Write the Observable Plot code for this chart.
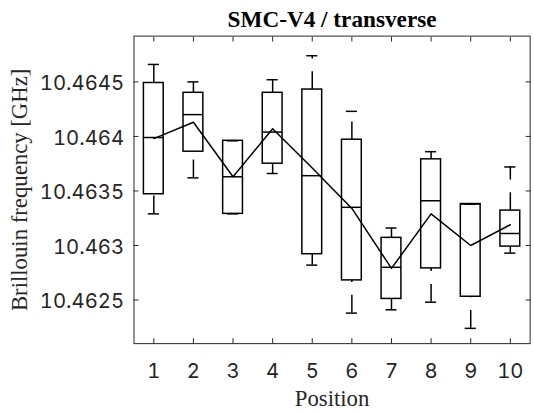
<!DOCTYPE html>
<html>
<head>
<meta charset="utf-8">
<script src="https://cdn.jsdelivr.net/npm/d3@7"></script>
<script src="https://cdn.jsdelivr.net/npm/@observablehq/plot@0.6"></script>
<style>
  html, body { margin: 0; padding: 0; background: #fff; overflow: hidden; }
</style>
</head>
<body>
<div id="chart"></div>
<script>
// Brillouin frequency distribution per measurement position (GHz)
const positions    = [1, 2, 3, 4, 5, 6, 7, 8, 9, 10];
const upperWhisker = [10.46466, 10.46450, 10.46396, 10.46452, 10.46474, 10.46423, 10.46316, 10.46386, 10.46338, 10.46372];
const q3           = [10.46449, 10.46440, 10.46396, 10.46440, 10.46443, 10.46397, 10.46307, 10.46379, 10.46338, 10.46332];
const median       = [10.46399, 10.46420, 10.46363, 10.46404, 10.46364, 10.46335, 10.46280, 10.46341, 10.46338, 10.46311];
const q1           = [10.46347, 10.46386, 10.46329, 10.46375, 10.46292, 10.46268, 10.46251, 10.46279, 10.46253, 10.46299];
const lowerWhisker = [10.46329, 10.46362, 10.46329, 10.46366, 10.46282, 10.46238, 10.46241, 10.46248, 10.46224, 10.46293];
const means        = [10.46398, 10.46413, 10.46363, 10.46407, 10.46371, 10.46334, 10.46279, 10.46329, 10.46300, 10.46319];

const yTicks      = [10.4625, 10.463, 10.4635, 10.464, 10.4645];
const yTickLabels = ["10.4625", "10.463", "10.4635", "10.464", "10.4645"];

const titleText = "SMC-V4 / transverse";
const xLabel = "Position";
const yLabel = "Brillouin frequency [GHz]";

const rows = positions.map((p, i) => ({
  pos: p, lo: lowerWhisker[i], q1: q1[i], med: median[i], q3: q3[i], hi: upperWhisker[i], mean: means[i]
}));

const boxHalf = 0.25;   // half box width, in position units
const capHalf = 0.14;   // half whisker-cap width
const ink = "#000";
const axisInk = "#262626";
const serif = "'Liberation Serif', 'Times New Roman', serif";
const sans = "Inter, 'Liberation Sans', Arial, sans-serif";
const lw = 1.5;
const whiskerDash = "18,13";
const tickFont = 20.5;

const chart = Plot.plot({
  width: 540,
  height: 414,
  marginLeft: 135,
  marginRight: 4.4,
  marginTop: 36,
  marginBottom: 67,
  style: { fontFamily: sans, fontSize: "21px", color: axisInk, background: "#fff", overflow: "visible" },
  x: { domain: [0.5, 10.5] },
  y: { domain: [10.4621, 10.46492] },
  marks: [
    Plot.frame({ stroke: axisInk, strokeWidth: 1 }),

    // inward-pointing ticks on all four sides
    Plot.axisX(positions, { anchor: "bottom", tickSize: -5, tickFormat: () => "", label: null, stroke: axisInk }),
    Plot.axisX(positions, { anchor: "top", tickSize: -5, tickFormat: () => "", label: null, stroke: axisInk }),
    Plot.axisY(yTicks, { anchor: "left", tickSize: -5, tickFormat: () => "", label: null, stroke: axisInk }),
    Plot.axisY(yTicks, { anchor: "right", tickSize: -5, tickFormat: () => "", label: null, stroke: axisInk }),

    // tick labels
    Plot.axisX(positions, { anchor: "bottom", tickSize: 0, tickPadding: 20.5, label: null,
      tickFormat: d => String(d), fontSize: tickFont, fill: axisInk }),
    Plot.axisY(yTicks, { anchor: "left", tickSize: 0, tickPadding: 10, label: null, dy: 2,
      tickFormat: d => yTickLabels[yTicks.indexOf(d)], fontSize: tickFont, fill: axisInk }),

    // whiskers (dashed) and caps
    Plot.ruleX(rows, { x: "pos", y1: "q3", y2: "hi", stroke: ink, strokeWidth: lw, strokeDasharray: whiskerDash }),
    Plot.ruleX(rows, { x: "pos", y1: "lo", y2: "q1", stroke: ink, strokeWidth: lw, strokeDasharray: whiskerDash }),
    Plot.ruleY(rows, { y: "hi", x1: d => d.pos - capHalf, x2: d => d.pos + capHalf, stroke: ink, strokeWidth: lw }),
    Plot.ruleY(rows, { y: "lo", x1: d => d.pos - capHalf, x2: d => d.pos + capHalf, stroke: ink, strokeWidth: lw }),

    // boxes and medians
    Plot.rect(rows, { x1: d => d.pos - boxHalf, x2: d => d.pos + boxHalf, y1: "q1", y2: "q3",
      fill: "none", stroke: ink, strokeWidth: lw }),
    Plot.ruleY(rows, { y: "med", x1: d => d.pos - boxHalf, x2: d => d.pos + boxHalf, stroke: ink, strokeWidth: lw }),

    // mean per position
    Plot.line(rows, { x: "pos", y: "mean", stroke: ink, strokeWidth: 1.5 }),

    // title and axis labels
    Plot.text([titleText], { frameAnchor: "top", lineAnchor: "bottom", dy: -9.3,
      fontFamily: serif, fontWeight: "bold", fontSize: 23.5, fill: "#000" }),
    Plot.text([xLabel], { frameAnchor: "bottom", lineAnchor: "bottom", dy: 63,
      fontFamily: serif, fontSize: 23, fill: axisInk }),
    Plot.text([yLabel], { frameAnchor: "left", textAnchor: "middle", lineAnchor: "bottom", rotate: -90, dx: -108,
      fontFamily: serif, fontSize: 23, fill: axisInk })
  ]
});

document.getElementById("chart").appendChild(chart);
</script>
</body>
</html>
